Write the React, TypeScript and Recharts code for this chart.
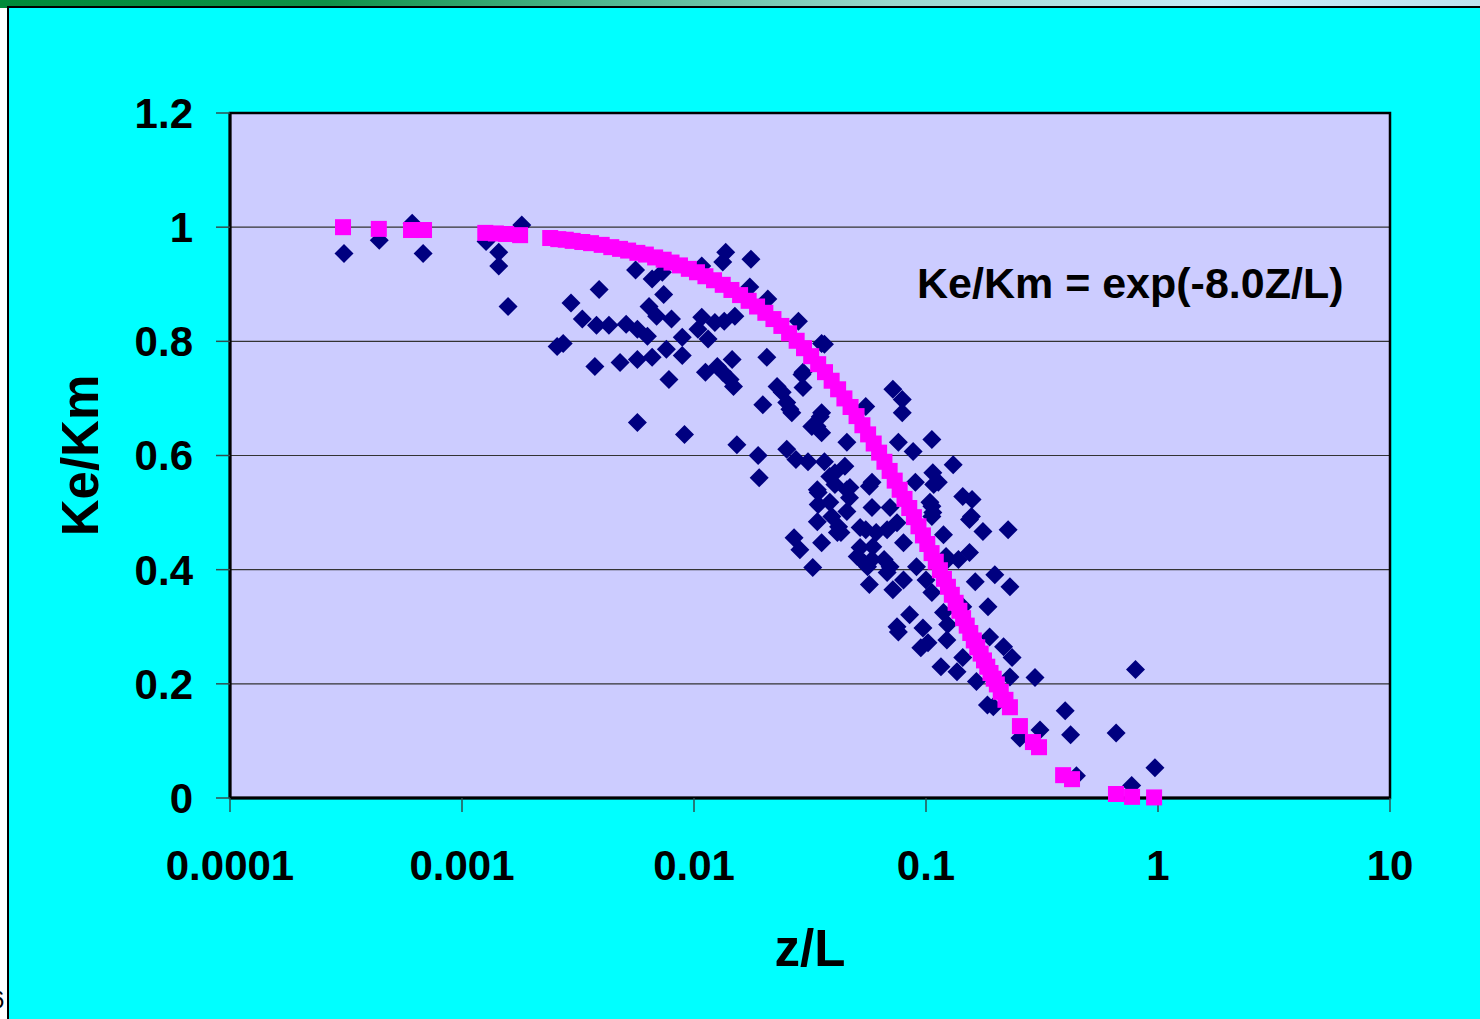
import { ScatterChart, Scatter, XAxis, YAxis, CartesianGrid, ReferenceArea } from "recharts";

// measured points (navy diamonds)
const diamondX = [
  0.00031, 0.00044, 0.00061, 0.00068, 0.00127, 0.00144, 0.00144, 0.00158, 0.00181, 0.00295,
  0.0033, 0.0038, 0.00257, 0.00273, 0.00374, 0.0039, 0.0137, 0.0133, 0.0176, 0.0056,
  0.0043, 0.0051, 0.0057, 0.0063, 0.0064, 0.0069, 0.0074, 0.0066, 0.0073, 0.008,
  0.0108, 0.0108, 0.0104, 0.0115, 0.0123, 0.0135, 0.015, 0.0174, 0.0208, 0.0282,
  0.0355, 0.0365, 0.0048, 0.0057, 0.0066, 0.0076, 0.0089, 0.0089, 0.0078, 0.0112,
  0.0126, 0.0133, 0.0143, 0.0146, 0.0148, 0.0206, 0.0228, 0.024, 0.0295, 0.0295,
  0.0198, 0.0259, 0.0355, 0.0339, 0.0057, 0.0091, 0.0153, 0.0189, 0.0251, 0.0275,
  0.0292, 0.0251, 0.0264, 0.0322, 0.0355, 0.0456, 0.055, 0.072, 0.079, 0.079,
  0.076, 0.088, 0.106, 0.0191, 0.031, 0.0365, 0.0405, 0.0447, 0.0385, 0.0585,
  0.131, 0.107, 0.108, 0.09, 0.0343, 0.0343, 0.034, 0.0385, 0.0393, 0.0456,
  0.0456, 0.0468, 0.042, 0.0585, 0.07, 0.075, 0.055, 0.061, 0.068, 0.027,
  0.0286, 0.0355, 0.0415, 0.052, 0.0585, 0.066, 0.07, 0.054, 0.0325, 0.106,
  0.106, 0.144, 0.158, 0.154, 0.176, 0.226, 0.119, 0.154, 0.138, 0.124,
  0.091, 0.08, 0.072, 0.1, 0.106, 0.163, 0.198, 0.23, 0.185, 0.144,
  0.119, 0.085, 0.075, 0.057, 0.076, 0.097, 0.095, 0.102, 0.123, 0.124,
  0.144, 0.116, 0.136, 0.188, 0.216, 0.235, 0.165, 0.23, 0.295, 0.184,
  0.195, 0.254, 0.31, 0.398, 0.42, 0.66, 0.8, 0.445, 0.77, 0.97,
  0.035, 0.034, 0.0405, 0.047, 0.057, 0.043, 0.052, 0.059, 0.08, 0.056,
  0.068, 0.113, 0.157, 0.104, 0.107, 0.122, 0.0505,
];
const diamondY = [
  0.954, 0.977, 1.007, 0.954, 0.975, 0.956, 0.932, 0.861, 1.004, 0.867,
  0.839, 0.828, 0.791, 0.796, 0.756, 0.891, 0.956, 0.939, 0.944, 0.925,
  0.828, 0.83, 0.821, 0.809, 0.861, 0.844, 0.882, 0.909, 0.921, 0.839,
  0.932, 0.842, 0.821, 0.804, 0.833, 0.835, 0.844, 0.895, 0.874, 0.835,
  0.796, 0.795, 0.763, 0.768, 0.772, 0.786, 0.807, 0.775, 0.733, 0.746,
  0.756, 0.746, 0.733, 0.768, 0.721, 0.772, 0.721, 0.711, 0.746, 0.719,
  0.689, 0.681, 0.675, 0.651, 0.658, 0.637, 0.619, 0.6, 0.611, 0.593,
  0.742, 0.693, 0.675, 0.651, 0.64, 0.623, 0.686, 0.716, 0.698, 0.675,
  0.623, 0.607, 0.628, 0.561, 0.589, 0.589, 0.57, 0.581, 0.563, 0.553,
  0.584, 0.57, 0.549, 0.553, 0.535, 0.514, 0.484, 0.518, 0.493, 0.54,
  0.502, 0.526, 0.475, 0.509, 0.509, 0.482, 0.47, 0.465, 0.47, 0.456,
  0.435, 0.447, 0.465, 0.439, 0.418, 0.418, 0.405, 0.412, 0.404, 0.511,
  0.493, 0.528, 0.523, 0.488, 0.467, 0.47, 0.461, 0.43, 0.418, 0.418,
  0.405, 0.382, 0.365, 0.382, 0.36, 0.379, 0.391, 0.37, 0.335, 0.335,
  0.325, 0.321, 0.3, 0.374, 0.291, 0.298, 0.263, 0.272, 0.277, 0.304,
  0.246, 0.23, 0.221, 0.282, 0.265, 0.246, 0.204, 0.212, 0.211, 0.163,
  0.16, 0.105, 0.119, 0.153, 0.111, 0.114, 0.225, 0.039, 0.022, 0.053,
  0.668, 0.54, 0.549, 0.544, 0.546, 0.465, 0.474, 0.44, 0.447, 0.405,
  0.395, 0.553, 0.493, 0.518, 0.5, 0.423, 0.423,
];

// fitted curve Ke/Km = exp(-8.0 z/L)
const curveX = [
  0.000307, 0.000438, 0.000603, 0.000686, 0.00126, 0.0014, 0.00155, 0.00178,
  0.0024, 0.0026, 0.0028, 0.003, 0.0033, 0.0036, 0.004, 0.0044, 0.0048, 0.0052,
  0.0057, 0.0062, 0.0068, 0.0074, 0.008, 0.0087, 0.0095, 0.0103, 0.0112, 0.0122,
  0.0133, 0.0145, 0.0158, 0.0172, 0.0187, 0.0203, 0.022, 0.0238, 0.0257, 0.0277,
  0.0298, 0.032, 0.0343, 0.0367, 0.0392, 0.0418, 0.0445, 0.0473, 0.0502, 0.0532,
  0.0563, 0.0595, 0.0628, 0.0662, 0.0697, 0.0733, 0.077, 0.0808, 0.0847, 0.0887,
  0.0928, 0.097, 0.1013, 0.1057, 0.1102, 0.1148, 0.1195, 0.1243, 0.1292, 0.1342,
  0.1393, 0.1445, 0.1498, 0.1552, 0.1607, 0.1663, 0.172, 0.1778, 0.1837, 0.1897,
  0.1958, 0.202, 0.21, 0.22, 0.23,
  0.254, 0.289, 0.307, 0.39, 0.426, 0.659, 0.773, 0.962,
];
const curveY = [
  1.0, 0.997, 0.995, 0.995, 0.99, 0.989, 0.988, 0.986,
  0.981, 0.979, 0.978, 0.976, 0.974, 0.972, 0.969, 0.965, 0.962, 0.959,
  0.955, 0.952, 0.947, 0.943, 0.938, 0.933, 0.927, 0.921, 0.914, 0.907,
  0.899, 0.89, 0.881, 0.871, 0.861, 0.85, 0.839, 0.827, 0.814, 0.801,
  0.788, 0.774, 0.76, 0.746, 0.731, 0.716, 0.7, 0.685, 0.669, 0.653,
  0.637, 0.621, 0.605, 0.589, 0.573, 0.556, 0.54, 0.524, 0.508, 0.492,
  0.476, 0.46, 0.445, 0.429, 0.414, 0.399, 0.384, 0.37, 0.356, 0.342,
  0.328, 0.315, 0.302, 0.289, 0.276, 0.264, 0.253, 0.241, 0.23, 0.219,
  0.209, 0.199, 0.186, 0.172, 0.159,
  0.126, 0.098, 0.089, 0.04, 0.033, 0.007, 0.002, 0.001,
];

const xTicks = [0.0001, 0.001, 0.01, 0.1, 1, 10];
const xTickLabels = ["0.0001", "0.001", "0.01", "0.1", "1", "10"];
const yTicks = [0, 0.2, 0.4, 0.6, 0.8, 1, 1.2];
const yTickLabels = ["0", "0.2", "0.4", "0.6", "0.8", "1", "1.2"];

const measured = diamondX.map((x, i) => ({ x, y: diamondY[i] }));
const fitted = curveX.map((x, i) => ({ x, y: curveY[i] }));

const FONT = "'Liberation Sans', Arial, Helvetica, sans-serif";

function Diamond(props: any) {
  const { cx, cy } = props;
  if (cx == null || cy == null) return null;
  const r = 9.5;
  return (
    <polygon
      points={`${cx},${cy - r} ${cx + r},${cy} ${cx},${cy + r} ${cx - r},${cy}`}
      fill="#000080"
    />
  );
}

function Square(props: any) {
  const { cx, cy } = props;
  if (cx == null || cy == null) return null;
  return <rect x={cx - 8} y={cy - 8} width={16} height={16} fill="#FF00FF" />;
}

export default function App() {
  return (
    <div
      style={{
        position: "absolute",
        left: 0,
        top: 0,
        width: 1480,
        height: 1019,
        background: "#fff",
        overflow: "hidden",
        fontFamily: FONT,
      }}
    >
      <div
        style={{
          position: "absolute",
          left: 0,
          top: 0,
          width: 1480,
          height: 8,
          background:
            "linear-gradient(to right, #008a3a 0%, #0f9148 22%, #55b894 42%, #98d6cc 60%, #c6eaf6 82%, #bde2ee 100%)",
        }}
      />
      <span
        style={{ position: "absolute", left: -9, top: 986, fontSize: 24, fontFamily: FONT, color: "#000" }}
      >
        6
      </span>
      <div
        style={{
          position: "absolute",
          left: 7,
          top: 6,
          width: 1473,
          height: 1013,
          background: "#00FFFF",
          borderLeft: "2px solid #000",
          borderTop: "2px solid #000",
          boxSizing: "border-box",
        }}
      />
      <div style={{ position: "absolute", left: 0, top: 0 }}>
        <ScatterChart width={1480} height={1019} margin={{ top: 113, right: 90, bottom: 41, left: 30 }}>
          <CartesianGrid
            vertical={false}
            fill="#CCCCFF"
            fillOpacity={1}
            stroke="#333"
            strokeWidth={1.2}
          />
          <XAxis
            type="number"
            dataKey="x"
            scale="log"
            domain={[0.0001, 10]}
            allowDataOverflow
            ticks={xTicks}
            tickFormatter={(v: number) => xTickLabels[xTicks.indexOf(v)] ?? String(v)}
            height={180}
            tickSize={14}
            tickMargin={38}
            axisLine={{ stroke: "#000", strokeWidth: 3 }}
            tickLine={{ stroke: "#2f4f4f", strokeWidth: 1.5 }}
            tick={{ fill: "#000", fontSize: 42, fontWeight: "bold", fontFamily: FONT }}
            label={{
              value: "z/L",
              position: "insideBottom",
              offset: 12,
              fill: "#000",
              fontSize: 51,
              fontWeight: "bold",
              fontFamily: FONT,
            }}
          />
          <YAxis
            type="number"
            dataKey="y"
            domain={[0, 1.2]}
            ticks={yTicks}
            tickFormatter={(v: number) => yTickLabels[yTicks.indexOf(v)] ?? String(v)}
            width={200}
            tickSize={14}
            tickMargin={23}
            axisLine={{ stroke: "#000", strokeWidth: 3 }}
            tickLine={{ stroke: "#2f4f4f", strokeWidth: 1.5 }}
            tick={{ fill: "#000", fontSize: 42, fontWeight: "bold", fontFamily: FONT }}
            label={{
              value: "Ke/Km",
              position: "insideLeft",
              angle: -90,
              offset: 50,
              fill: "#000",
              fontSize: 51,
              fontWeight: "bold",
              fontFamily: FONT,
              style: { textAnchor: "middle" },
            }}
          />
          <ReferenceArea
            x1={0.0001}
            x2={10}
            y1={0}
            y2={1.2}
            fill="none"
            stroke="#000"
            strokeWidth={2.5}
            ifOverflow="visible"
          />
          <Scatter data={measured} shape={Diamond} isAnimationActive={false} />
          <Scatter data={fitted} shape={Square} isAnimationActive={false} />
        </ScatterChart>
      </div>
      <svg
        width={1480}
        height={1019}
        style={{ position: "absolute", left: 0, top: 0, pointerEvents: "none" }}
      >
        <text x={917} y={298} fontSize={43} fontWeight="bold" fontFamily={FONT} fill="#000">
          Ke/Km = exp(-8.0Z/L)
        </text>
      </svg>
    </div>
  );
}
